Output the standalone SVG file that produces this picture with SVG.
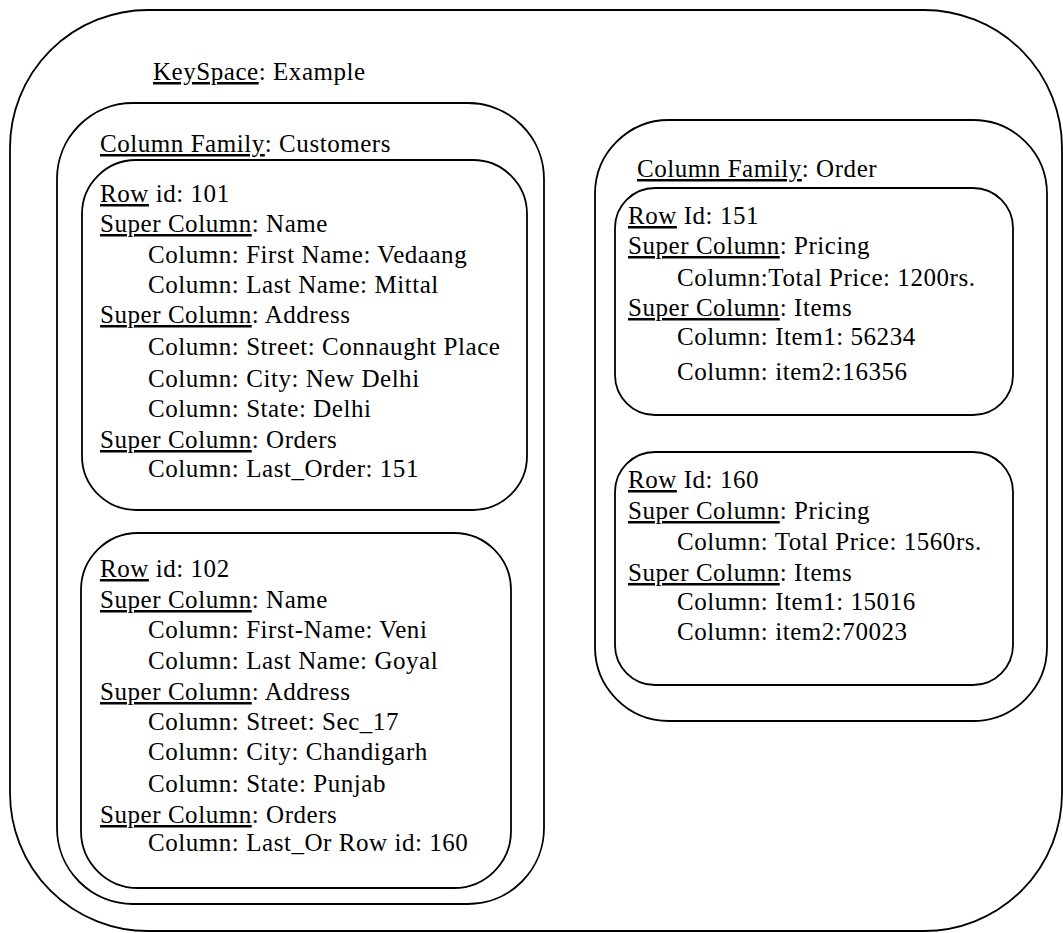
<svg xmlns="http://www.w3.org/2000/svg" width="1063" height="933" viewBox="0 0 1063 933">
  <style>
    .box { fill: none; stroke: #000; stroke-width: 1.8; }
    text { font-family: "Liberation Serif", "Times New Roman", serif; font-size: 25px; fill: #000; letter-spacing: 0.55px; }
    .u { text-decoration: underline; }
  </style>
  <rect width="1063" height="933" fill="#fff"/>

  <!-- Keyspace -->
  <g id="keyspace">
    <rect class="box" x="10" y="10" width="1052" height="921" rx="138" ry="138"/>
    <text x="153" y="80"><tspan class="u">KeySpace</tspan>: Example</text>
  </g>

  <!-- Column family: Customers -->
  <g id="cf-customers">
    <rect class="box" x="57" y="103" width="487" height="801" rx="76" ry="76"/>
    <text x="100" y="152"><tspan class="u">Column Family</tspan>: Customers</text>
  </g>

  <g id="row-101">
    <rect class="box" x="82" y="160" width="445" height="350" rx="54" ry="54"/>
    <text x="100" y="202"><tspan class="u">Row</tspan> id: 101</text>
    <text x="100" y="232"><tspan class="u">Super Column</tspan>: Name</text>
    <text x="148" y="263">Column: First Name: Vedaang</text>
    <text x="148" y="293">Column: Last Name: Mittal</text>
    <text x="100" y="323"><tspan class="u">Super Column</tspan>: Address</text>
    <text x="148" y="355">Column: Street: Connaught Place</text>
    <text x="148" y="387">Column: City: New Delhi</text>
    <text x="148" y="417">Column: State: Delhi</text>
    <text x="100" y="448"><tspan class="u">Super Column</tspan>: Orders</text>
    <text x="148" y="477">Column: Last_Order: 151</text>
  </g>

  <g id="row-102">
    <rect class="box" x="81" y="533" width="430" height="355" rx="57" ry="57"/>
    <text x="100" y="577"><tspan class="u">Row</tspan> id: 102</text>
    <text x="100" y="608"><tspan class="u">Super Column</tspan>: Name</text>
    <text x="148" y="638">Column: First-Name: Veni</text>
    <text x="148" y="669">Column: Last Name: Goyal</text>
    <text x="100" y="700"><tspan class="u">Super Column</tspan>: Address</text>
    <text x="148" y="730">Column: Street: Sec_17</text>
    <text x="148" y="760">Column: City: Chandigarh</text>
    <text x="148" y="792">Column: State: Punjab</text>
    <text x="100" y="823"><tspan class="u">Super Column</tspan>: Orders</text>
    <text x="148" y="851">Column: Last_Or Row id: 160</text>
  </g>

  <!-- Column family: Order -->
  <g id="cf-order">
    <rect class="box" x="595" y="120" width="452" height="601" rx="74" ry="74"/>
    <text x="637" y="177"><tspan class="u">Column Family</tspan>: Order</text>
  </g>

  <g id="row-151">
    <rect class="box" x="615" y="188" width="398" height="227" rx="40" ry="40"/>
    <text x="628" y="224"><tspan class="u">Row</tspan> Id: 151</text>
    <text x="628" y="254"><tspan class="u">Super Column</tspan>: Pricing</text>
    <text x="677" y="286">Column:Total Price: 1200rs.</text>
    <text x="628" y="316"><tspan class="u">Super Column</tspan>: Items</text>
    <text x="677" y="345">Column: Item1: 56234</text>
    <text x="677" y="380">Column: item2:16356</text>
  </g>

  <g id="row-160">
    <rect class="box" x="615" y="452" width="398" height="233" rx="40" ry="40"/>
    <text x="628" y="488"><tspan class="u">Row</tspan> Id: 160</text>
    <text x="628" y="519"><tspan class="u">Super Column</tspan>: Pricing</text>
    <text x="677" y="550">Column: Total Price: 1560rs.</text>
    <text x="628" y="581"><tspan class="u">Super Column</tspan>: Items</text>
    <text x="677" y="610">Column: Item1: 15016</text>
    <text x="677" y="640">Column: item2:70023</text>
  </g>

  <!-- no connectors between the nested boxes -->
  <g id="connectors"/>
</svg>
